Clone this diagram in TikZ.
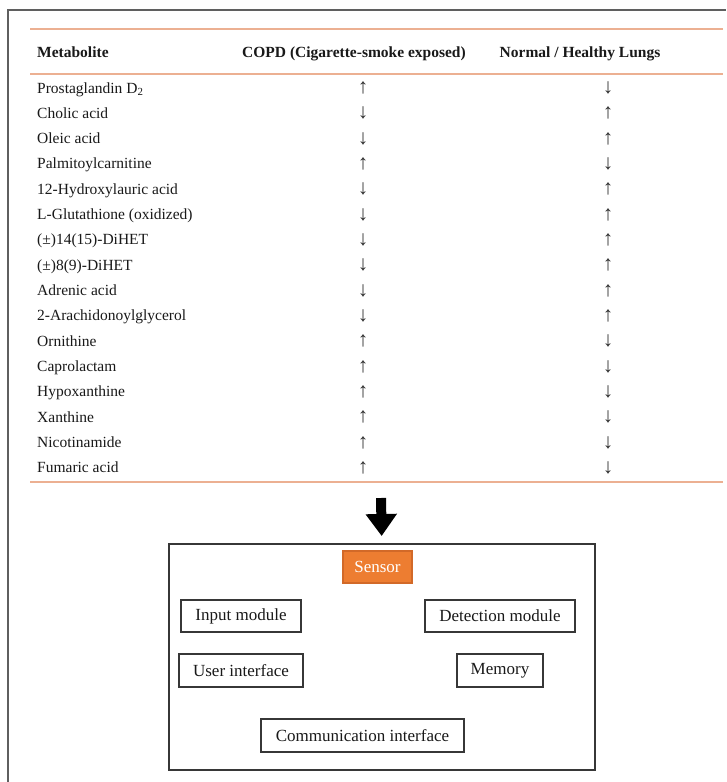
\documentclass[tikz,border=0pt]{standalone}
\usepackage{fontspec}
\setmainfont{Liberation Serif}
\usetikzlibrary{arrows.meta}
\definecolor{rulecol}{RGB}{236,176,146}
\definecolor{framecol}{RGB}{95,95,95}
\definecolor{sensorfill}{RGB}{237,125,49}
\definecolor{sensorline}{RGB}{210,105,40}
\definecolor{boxline}{RGB}{55,55,55}
\definecolor{ink}{RGB}{25,25,25}
\begin{document}
\begin{tikzpicture}[x=1pt,y=-1pt,
  cell/.style={font=\fontsize{15.5}{17}\selectfont, text=ink, inner sep=0pt},
  headcell/.style={font=\fontsize{15.5}{17}\selectfont\bfseries, text=ink, inner sep=0pt},
  trend/.style={font=\fontsize{21}{23}\selectfont, text=ink!90, inner sep=0pt},
  module/.style={draw=boxline, line width=1.6pt, font=\fontsize{17}{19}\selectfont, text=ink, inner sep=0pt, minimum height=32pt},
  hrule/.style={draw=rulecol, line width=2pt},
  bigarrow/.style={line width=10pt, -{Triangle[width=30pt,length=22pt]}, shorten >=7pt},
]
\useasboundingbox (0,0) rectangle (726,782);
\fill[white] (0,0) rectangle (726,782);
% outer frame
\draw[framecol, line width=2.5pt] (8,782) -- (8,10) -- (726,10);
% table rules
\draw[hrule] (30,28.5) -- (723,28.5);
\draw[hrule] (30,74) -- (723,74);
\draw[hrule] (30,482) -- (723,482);
% header
\node[headcell, anchor=base west] (hm) at (37,57) {Metabolite};
\node[headcell, anchor=base] (hc) at (354,57) {COPD (Cigarette-smoke exposed)};
\node[headcell, anchor=base] (hn) at (580,57) {Normal / Healthy Lungs};
% rows
\foreach \nm/\a/\b [count=\i from 0] in {
  {Prostaglandin D\textsubscript{2}}/↑/↓,
  {Cholic acid}/↓/↑,
  {Oleic acid}/↓/↑,
  {Palmitoylcarnitine}/↑/↓,
  {12-Hydroxylauric acid}/↓/↑,
  {L-Glutathione (oxidized)}/↓/↑,
  {(±)14(15)-DiHET}/↓/↑,
  {(±)8(9)-DiHET}/↓/↑,
  {Adrenic acid}/↓/↑,
  {2-Arachidonoylglycerol}/↓/↑,
  {Ornithine}/↑/↓,
  {Caprolactam}/↑/↓,
  {Hypoxanthine}/↑/↓,
  {Xanthine}/↑/↓,
  {Nicotinamide}/↑/↓,
  {Fumaric acid}/↑/↓}{
  \pgfmathsetmacro\yy{88+25.33*\i}
  \pgfmathsetmacro\yb{\yy+5}
  \node[cell, anchor=base west] (m\i) at (37,\yb) {\nm};
  \node[trend] (c\i) at (363,\yy) {\a};
  \node[trend] (h\i) at (608,\yy) {\b};
}
% system box
\coordinate (tabbot) at (381,498);
\node[draw=boxline, line width=1.6pt, minimum width=426pt, minimum height=226pt, inner sep=0pt, anchor=north west] (sys) at (168,543) {};
\draw[bigarrow] (tabbot) -- (sys.north);
\node[module, fill=sensorfill, draw=sensorline, text=white, minimum width=69pt] (sensor) at (377.5,567) {Sensor};
\node[module, minimum width=120pt] (input) at (241,616) {Input module};
\node[module, minimum width=150pt] (detect) at (500,616) {Detection module};
\node[module, minimum width=124pt, minimum height=33pt] (ui) at (241,670.5) {User interface};
\node[module, minimum width=86pt, minimum height=33pt] (mem) at (500,670.5) {Memory};
\node[module, minimum width=203pt, minimum height=33pt] (comm) at (362.5,735.5) {Communication interface};
\end{tikzpicture}
\end{document}
